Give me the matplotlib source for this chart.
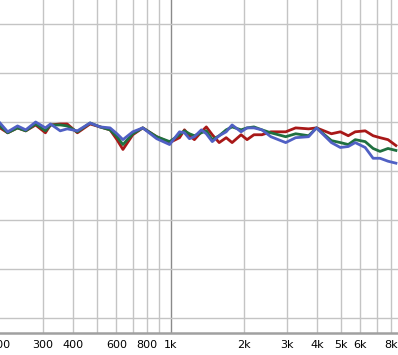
import matplotlib.pyplot as plt
from matplotlib.ticker import FixedLocator, NullLocator

freqs = [200, 215, 236, 255, 280, 307, 322, 353, 377, 415, 468, 514, 565, 603,
         638, 700, 769, 877, 991,
         1088, 1140, 1195, 1252, 1337, 1401, 1482, 1582, 1690, 1787, 1945,
         2058, 2196, 2367,
         2576, 2964, 3255, 3678, 3963, 4561, 4963, 5348, 5710, 6273, 6760,
         7217, 7780, 8384]

red = [79.4, 78.9, 79.4, 79.1, 79.7, 78.9, 79.7, 79.8, 79.8, 78.9, 79.8, 79.5,
       79.2, 78.2, 77.2, 78.7, 79.4, 78.5, 77.9,
       78.4, 79.2, 78.6, 78.2, 79.0, 79.5, 78.7, 77.9, 78.4, 77.9, 78.7,
       78.2, 78.7, 78.7,
       79.0, 79.0, 79.4, 79.3, 79.4, 78.8, 79.0, 78.6, 79.0, 79.1, 78.6,
       78.4, 78.2, 77.6]

green = [79.6, 78.9, 79.4, 79.1, 79.8, 79.1, 79.7, 79.7, 79.6, 79.0, 79.9, 79.5,
         79.2, 78.5, 77.7, 78.8, 79.4, 78.5, 78.0,
         78.7, 79.1, 78.8, 78.6, 78.9, 79.1, 78.2, 78.6, 79.2, 79.5, 79.2,
         79.4, 79.5, 79.2,
         78.9, 78.5, 78.8, 78.6, 79.4, 78.1, 77.9, 77.7, 78.2, 78.0, 77.3,
         77.0, 77.3, 77.1]

blue = [79.9, 79.0, 79.6, 79.2, 80.0, 79.4, 79.8, 79.1, 79.3, 79.1, 79.9, 79.5,
        79.4, 78.8, 78.2, 79.0, 79.4, 78.3, 77.7,
        79.0, 78.9, 78.3, 78.5, 79.2, 78.8, 78.0, 78.6, 79.0, 79.7, 79.0,
        79.4, 79.4, 79.2,
        78.5, 77.9, 78.4, 78.5, 79.4, 77.9, 77.4, 77.5, 77.9, 77.4, 76.3,
        76.3, 76.0, 75.8]

tick_freqs = [200, 300, 400, 600, 800, 1000, 2000, 3000, 4000, 5000, 6000, 8000]
tick_labels = ["200", "300", "400", "600", "800", "1k", "2k", "3k", "4k", "5k", "6k", "8k"]
grid_freqs = [300, 400, 500, 600, 700, 800, 900, 2000, 3000, 4000, 5000, 6000, 7000, 8000]

fig = plt.figure(figsize=(3.98, 3.55), dpi=100)
ax = fig.add_axes([0, 22 / 355, 1, 333 / 355])

for f in grid_freqs:
    ax.axvline(f, color="#c4c4c4", lw=1.0, zorder=0)
ax.axvline(1000, color="#8a8a8a", lw=1.0, zorder=0)
for db in range(60, 95, 5):
    ax.axhline(db, color="#c4c4c4", lw=1.0, zorder=0)

ax.plot(freqs, red, color="#a81818", lw=2.0, solid_joinstyle="round")
ax.plot(freqs, green, color="#1f7040", lw=2.0, solid_joinstyle="round")
ax.plot(freqs, blue, color="#5060c4", lw=2.0, solid_joinstyle="round")

ax.set_xscale("log")
ax.set_xlim(200, 8550)
ax.set_ylim(58.47, 92.45)

ax.xaxis.set_major_locator(FixedLocator(tick_freqs))
ax.xaxis.set_minor_locator(NullLocator())
ax.set_xticklabels(tick_labels, fontsize=8, family="DejaVu Sans")
ax.tick_params(axis="x", length=0, pad=5)
ax.set_yticks([])

for s in ["left", "right", "top"]:
    ax.spines[s].set_visible(False)
ax.spines["bottom"].set_color("#a0a0a0")
ax.spines["bottom"].set_linewidth(1.8)

fig.savefig("out.png", dpi=100)
